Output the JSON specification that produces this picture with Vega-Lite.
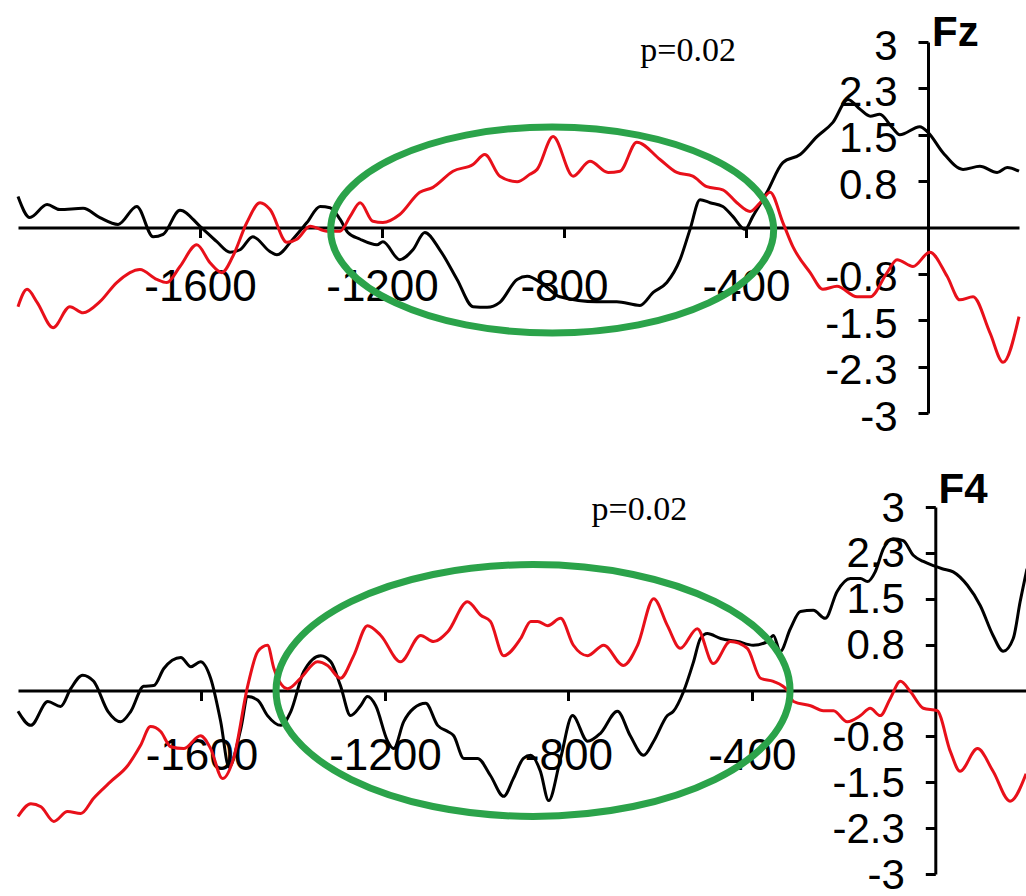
{
  "$schema": "https://vega.github.io/schema/vega-lite/v6.json",
  "background": "white",
  "padding": {"left": 12, "top": 12, "right": 0, "bottom": 0},
  "spacing": 31,
  "config": {
    "view": {"stroke": null},
    "axis": {
      "title": null, "grid": false,
      "domainColor": "#000000", "domainWidth": 3,
      "tickColor": "#000000", "tickWidth": 3, "tickSize": 10,
      "labelFont": "Liberation Sans", "labelColor": "#000000",
      "labelFlush": false, "labelOverlap": false
    }
  },
  "datasets": {
    "fz": [
      {"t":-2000,"v":0.50,"s":"A"},{"t":-1974,"v":0.16,"s":"A"},{"t":-1936,"v":0.37,"s":"A"},{"t":-1908,"v":0.29,"s":"A"},
      {"t":-1857,"v":0.31,"s":"A"},{"t":-1820,"v":0.16,"s":"A"},{"t":-1780,"v":0.05,"s":"A"},{"t":-1739,"v":0.34,"s":"A"},
      {"t":-1703,"v":-0.15,"s":"A"},{"t":-1681,"v":-0.11,"s":"A"},{"t":-1644,"v":0.28,"s":"A"},{"t":-1600,"v":0.02,"s":"A"},
      {"t":-1563,"v":-0.23,"s":"A"},{"t":-1534,"v":-0.40,"s":"A"},{"t":-1512,"v":-0.36,"s":"A"},{"t":-1484,"v":-0.15,"s":"A"},
      {"t":-1446,"v":-0.39,"s":"A"},{"t":-1431,"v":-0.44,"s":"A"},{"t":-1396,"v":-0.19,"s":"A"},{"t":-1365,"v":0.08,"s":"A"},
      {"t":-1336,"v":0.34,"s":"A"},{"t":-1314,"v":0.32,"s":"A"},{"t":-1292,"v":0.13,"s":"A"},{"t":-1275,"v":-0.08,"s":"A"},
      {"t":-1248,"v":-0.19,"s":"A"},{"t":-1211,"v":-0.28,"s":"A"},{"t":-1198,"v":-0.23,"s":"A"},{"t":-1161,"v":-0.52,"s":"A"},
      {"t":-1132,"v":-0.36,"s":"A"},{"t":-1106,"v":-0.08,"s":"A"},{"t":-1073,"v":-0.36,"s":"A"},{"t":-1035,"v":-0.84,"s":"A"},
      {"t":-1000,"v":-1.28,"s":"A"},{"t":-969,"v":-1.29,"s":"A"},{"t":-941,"v":-1.21,"s":"A"},{"t":-903,"v":-0.84,"s":"A"},
      {"t":-881,"v":-0.79,"s":"A"},{"t":-846,"v":-0.92,"s":"A"},{"t":-809,"v":-1.12,"s":"A"},{"t":-728,"v":-1.20,"s":"A"},
      {"t":-684,"v":-1.20,"s":"A"},{"t":-633,"v":-1.26,"s":"A"},{"t":-604,"v":-1.05,"s":"A"},{"t":-574,"v":-0.89,"s":"A"},
      {"t":-545,"v":-0.52,"s":"A"},{"t":-523,"v":-0.03,"s":"A"},{"t":-501,"v":0.45,"s":"A"},{"t":-479,"v":0.40,"s":"A"},
      {"t":-451,"v":0.34,"s":"A"},{"t":-429,"v":0.18,"s":"A"},{"t":-402,"v":-0.03,"s":"A"},{"t":-385,"v":0.18,"s":"A"},
      {"t":-354,"v":0.57,"s":"A"},{"t":-319,"v":1.05,"s":"A"},{"t":-281,"v":1.18,"s":"A"},{"t":-244,"v":1.47,"s":"A"},
      {"t":-209,"v":1.70,"s":"A"},{"t":-176,"v":2.07,"s":"A"},{"t":-149,"v":1.91,"s":"A"},{"t":-127,"v":1.80,"s":"A"},
      {"t":-106,"v":1.83,"s":"A"},{"t":-79,"v":1.62,"s":"A"},{"t":-62,"v":1.50,"s":"A"},{"t":-18,"v":1.63,"s":"A"},
      {"t":0,"v":1.54,"s":"A"},{"t":33,"v":1.21,"s":"A"},{"t":77,"v":0.94,"s":"A"},{"t":114,"v":0.99,"s":"A"},
      {"t":152,"v":0.89,"s":"A"},{"t":174,"v":0.97,"s":"A"},{"t":200,"v":0.91,"s":"A"},
      {"t":-2000,"v":-1.28,"s":"B"},{"t":-1980,"v":-1.00,"s":"B"},{"t":-1958,"v":-1.21,"s":"B"},{"t":-1923,"v":-1.62,"s":"B"},
      {"t":-1886,"v":-1.28,"s":"B"},{"t":-1857,"v":-1.38,"s":"B"},{"t":-1820,"v":-1.20,"s":"B"},{"t":-1783,"v":-0.89,"s":"B"},
      {"t":-1732,"v":-0.68,"s":"B"},{"t":-1695,"v":-0.84,"s":"B"},{"t":-1673,"v":-0.89,"s":"B"},{"t":-1644,"v":-0.63,"s":"B"},
      {"t":-1607,"v":-0.28,"s":"B"},{"t":-1578,"v":-0.57,"s":"B"},{"t":-1552,"v":-0.73,"s":"B"},{"t":-1528,"v":-0.47,"s":"B"},
      {"t":-1497,"v":0.08,"s":"B"},{"t":-1468,"v":0.40,"s":"B"},{"t":-1446,"v":0.29,"s":"B"},{"t":-1409,"v":-0.24,"s":"B"},
      {"t":-1387,"v":-0.19,"s":"B"},{"t":-1358,"v":0.02,"s":"B"},{"t":-1321,"v":-0.06,"s":"B"},{"t":-1292,"v":-0.06,"s":"B"},
      {"t":-1270,"v":0.18,"s":"B"},{"t":-1248,"v":0.40,"s":"B"},{"t":-1220,"v":0.10,"s":"B"},{"t":-1198,"v":0.08,"s":"B"},
      {"t":-1161,"v":0.21,"s":"B"},{"t":-1117,"v":0.57,"s":"B"},{"t":-1088,"v":0.65,"s":"B"},{"t":-1044,"v":0.91,"s":"B"},
      {"t":-1000,"v":1.02,"s":"B"},{"t":-974,"v":1.18,"s":"B"},{"t":-941,"v":0.83,"s":"B"},{"t":-903,"v":0.74,"s":"B"},
      {"t":-875,"v":0.86,"s":"B"},{"t":-859,"v":0.94,"s":"B"},{"t":-824,"v":1.47,"s":"B"},{"t":-780,"v":0.83,"s":"B"},
      {"t":-743,"v":1.07,"s":"B"},{"t":-703,"v":0.89,"s":"B"},{"t":-677,"v":0.91,"s":"B"},{"t":-640,"v":1.38,"s":"B"},
      {"t":-589,"v":1.10,"s":"B"},{"t":-552,"v":0.89,"s":"B"},{"t":-517,"v":0.83,"s":"B"},{"t":-486,"v":0.66,"s":"B"},
      {"t":-451,"v":0.61,"s":"B"},{"t":-420,"v":0.40,"s":"B"},{"t":-391,"v":0.26,"s":"B"},{"t":-369,"v":0.40,"s":"B"},
      {"t":-347,"v":0.57,"s":"B"},{"t":-319,"v":0.08,"s":"B"},{"t":-297,"v":-0.31,"s":"B"},{"t":-259,"v":-0.73,"s":"B"},
      {"t":-231,"v":-1.00,"s":"B"},{"t":-200,"v":-0.95,"s":"B"},{"t":-156,"v":-1.12,"s":"B"},{"t":-127,"v":-1.12,"s":"B"},
      {"t":-90,"v":-0.73,"s":"B"},{"t":-68,"v":-0.52,"s":"B"},{"t":-33,"v":-0.63,"s":"B"},{"t":4,"v":-0.40,"s":"B"},
      {"t":42,"v":-0.79,"s":"B"},{"t":70,"v":-1.17,"s":"B"},{"t":99,"v":-1.12,"s":"B"},{"t":136,"v":-1.70,"s":"B"},
      {"t":165,"v":-2.18,"s":"B"},{"t":200,"v":-1.44,"s":"B"}
    ],
    "f4": [
      {"t":-2000,"v":-0.34,"s":"A"},{"t":-1972,"v":-0.57,"s":"A"},{"t":-1935,"v":-0.18,"s":"A"},{"t":-1907,"v":-0.26,"s":"A"},
      {"t":-1885,"v":0.03,"s":"A"},{"t":-1859,"v":0.25,"s":"A"},{"t":-1835,"v":0.15,"s":"A"},{"t":-1804,"v":-0.34,"s":"A"},
      {"t":-1776,"v":-0.51,"s":"A"},{"t":-1754,"v":-0.34,"s":"A"},{"t":-1726,"v":0.07,"s":"A"},{"t":-1704,"v":0.08,"s":"A"},
      {"t":-1682,"v":0.36,"s":"A"},{"t":-1645,"v":0.54,"s":"A"},{"t":-1623,"v":0.39,"s":"A"},{"t":-1602,"v":0.47,"s":"A"},
      {"t":-1580,"v":0.20,"s":"A"},{"t":-1558,"v":-0.51,"s":"A"},{"t":-1540,"v":-1.25,"s":"A"},{"t":-1514,"v":-0.62,"s":"A"},
      {"t":-1499,"v":-0.10,"s":"A"},{"t":-1477,"v":-0.16,"s":"A"},{"t":-1456,"v":-0.41,"s":"A"},{"t":-1427,"v":-0.57,"s":"A"},
      {"t":-1405,"v":-0.34,"s":"A"},{"t":-1377,"v":0.31,"s":"A"},{"t":-1340,"v":0.57,"s":"A"},{"t":-1318,"v":0.47,"s":"A"},
      {"t":-1297,"v":0.08,"s":"A"},{"t":-1275,"v":-0.41,"s":"A"},{"t":-1253,"v":-0.25,"s":"A"},{"t":-1238,"v":-0.10,"s":"A"},
      {"t":-1220,"v":-0.25,"s":"A"},{"t":-1194,"v":-0.83,"s":"A"},{"t":-1181,"v":-0.95,"s":"A"},{"t":-1159,"v":-0.51,"s":"A"},
      {"t":-1137,"v":-0.29,"s":"A"},{"t":-1111,"v":-0.21,"s":"A"},{"t":-1085,"v":-0.57,"s":"A"},{"t":-1063,"v":-0.67,"s":"A"},
      {"t":-1050,"v":-0.74,"s":"A"},{"t":-1028,"v":-1.11,"s":"A"},{"t":-998,"v":-1.11,"s":"A"},{"t":-970,"v":-1.39,"s":"A"},
      {"t":-941,"v":-1.73,"s":"A"},{"t":-920,"v":-1.44,"s":"A"},{"t":-898,"v":-1.11,"s":"A"},{"t":-882,"v":-1.06,"s":"A"},
      {"t":-861,"v":-1.32,"s":"A"},{"t":-843,"v":-1.80,"s":"A"},{"t":-817,"v":-1.11,"s":"A"},{"t":-791,"v":-0.41,"s":"A"},
      {"t":-758,"v":-0.83,"s":"A"},{"t":-730,"v":-0.70,"s":"A"},{"t":-693,"v":-0.34,"s":"A"},{"t":-665,"v":-0.74,"s":"A"},
      {"t":-636,"v":-1.06,"s":"A"},{"t":-614,"v":-0.83,"s":"A"},{"t":-584,"v":-0.41,"s":"A"},{"t":-571,"v":-0.34,"s":"A"},
      {"t":-549,"v":-0.02,"s":"A"},{"t":-527,"v":0.47,"s":"A"},{"t":-512,"v":0.85,"s":"A"},{"t":-497,"v":0.93,"s":"A"},
      {"t":-468,"v":0.85,"s":"A"},{"t":-431,"v":0.80,"s":"A"},{"t":-397,"v":0.74,"s":"A"},{"t":-366,"v":0.80,"s":"A"},
      {"t":-353,"v":0.90,"s":"A"},{"t":-338,"v":0.64,"s":"A"},{"t":-316,"v":1.01,"s":"A"},{"t":-294,"v":1.29,"s":"A"},
      {"t":-266,"v":1.31,"s":"A"},{"t":-240,"v":1.18,"s":"A"},{"t":-214,"v":1.62,"s":"A"},{"t":-185,"v":1.83,"s":"A"},
      {"t":-163,"v":1.83,"s":"A"},{"t":-148,"v":1.78,"s":"A"},{"t":-131,"v":1.94,"s":"A"},{"t":-113,"v":2.32,"s":"A"},
      {"t":-92,"v":2.48,"s":"A"},{"t":-70,"v":2.45,"s":"A"},{"t":-48,"v":2.21,"s":"A"},{"t":-26,"v":2.11,"s":"A"},
      {"t":-4,"v":2.04,"s":"A"},{"t":15,"v":1.99,"s":"A"},{"t":39,"v":1.94,"s":"A"},{"t":70,"v":1.72,"s":"A"},
      {"t":98,"v":1.39,"s":"A"},{"t":126,"v":0.90,"s":"A"},{"t":148,"v":0.64,"s":"A"},{"t":170,"v":0.85,"s":"A"},
      {"t":185,"v":1.45,"s":"A"},{"t":200,"v":1.99,"s":"A"},
      {"t":-2000,"v":-2.06,"s":"B"},{"t":-1972,"v":-1.85,"s":"B"},{"t":-1950,"v":-1.90,"s":"B"},{"t":-1922,"v":-2.14,"s":"B"},
      {"t":-1892,"v":-1.98,"s":"B"},{"t":-1863,"v":-2.01,"s":"B"},{"t":-1835,"v":-1.76,"s":"B"},{"t":-1798,"v":-1.49,"s":"B"},
      {"t":-1761,"v":-1.23,"s":"B"},{"t":-1733,"v":-0.90,"s":"B"},{"t":-1711,"v":-0.59,"s":"B"},{"t":-1689,"v":-0.67,"s":"B"},
      {"t":-1667,"v":-0.92,"s":"B"},{"t":-1639,"v":-0.95,"s":"B"},{"t":-1602,"v":-0.74,"s":"B"},{"t":-1580,"v":-0.95,"s":"B"},
      {"t":-1554,"v":-1.44,"s":"B"},{"t":-1530,"v":-1.11,"s":"B"},{"t":-1499,"v":0.08,"s":"B"},{"t":-1477,"v":0.64,"s":"B"},
      {"t":-1456,"v":0.74,"s":"B"},{"t":-1442,"v":0.36,"s":"B"},{"t":-1412,"v":0.03,"s":"B"},{"t":-1384,"v":0.20,"s":"B"},
      {"t":-1347,"v":0.47,"s":"B"},{"t":-1325,"v":0.41,"s":"B"},{"t":-1297,"v":0.20,"s":"B"},{"t":-1268,"v":0.57,"s":"B"},
      {"t":-1238,"v":1.06,"s":"B"},{"t":-1209,"v":0.90,"s":"B"},{"t":-1166,"v":0.47,"s":"B"},{"t":-1122,"v":0.90,"s":"B"},
      {"t":-1094,"v":0.80,"s":"B"},{"t":-1063,"v":0.96,"s":"B"},{"t":-1020,"v":1.45,"s":"B"},{"t":-991,"v":1.23,"s":"B"},
      {"t":-970,"v":1.13,"s":"B"},{"t":-941,"v":0.57,"s":"B"},{"t":-904,"v":0.85,"s":"B"},{"t":-882,"v":1.13,"s":"B"},
      {"t":-867,"v":1.13,"s":"B"},{"t":-845,"v":1.06,"s":"B"},{"t":-817,"v":1.18,"s":"B"},{"t":-789,"v":0.74,"s":"B"},
      {"t":-758,"v":0.57,"s":"B"},{"t":-723,"v":0.74,"s":"B"},{"t":-680,"v":0.41,"s":"B"},{"t":-649,"v":0.74,"s":"B"},
      {"t":-614,"v":1.50,"s":"B"},{"t":-584,"v":1.06,"s":"B"},{"t":-556,"v":0.69,"s":"B"},{"t":-519,"v":1.01,"s":"B"},
      {"t":-484,"v":0.44,"s":"B"},{"t":-447,"v":0.80,"s":"B"},{"t":-410,"v":0.69,"s":"B"},{"t":-381,"v":0.20,"s":"B"},
      {"t":-353,"v":0.15,"s":"B"},{"t":-322,"v":0.00,"s":"B"},{"t":-309,"v":-0.18,"s":"B"},{"t":-272,"v":-0.25,"s":"B"},
      {"t":-244,"v":-0.33,"s":"B"},{"t":-222,"v":-0.33,"s":"B"},{"t":-192,"v":-0.51,"s":"B"},{"t":-163,"v":-0.41,"s":"B"},
      {"t":-142,"v":-0.29,"s":"B"},{"t":-120,"v":-0.41,"s":"B"},{"t":-98,"v":-0.13,"s":"B"},{"t":-76,"v":0.15,"s":"B"},
      {"t":-54,"v":-0.02,"s":"B"},{"t":-26,"v":-0.29,"s":"B"},{"t":4,"v":-0.33,"s":"B"},{"t":33,"v":-1.00,"s":"B"},
      {"t":54,"v":-1.32,"s":"B"},{"t":92,"v":-0.95,"s":"B"},{"t":126,"v":-1.32,"s":"B"},{"t":163,"v":-1.81,"s":"B"},
      {"t":198,"v":-1.36,"s":"B"}
    ]
  },
  "vconcat": [
    {
      "width": 1001,
      "height": 371,
      "layer": [
        {
          "data": {"name": "fz"},
          "mark": {"type": "line", "strokeWidth": 3, "interpolate": "monotone"},
          "encoding": {
            "x": {"field": "t", "type": "quantitative",
              "scale": {"domain": [-2000, 200], "nice": false, "zero": false},
              "axis": {"orient": "bottom", "offset": -185.5, "values": [-1600, -1200, -800, -400],
                "labelExpr": "'-' + abs(datum.value)", "labelFontSize": 44, "labelPadding": 28}},
            "y": {"field": "v", "type": "quantitative",
              "scale": {"domain": [-3, 3], "nice": false},
              "axis": {"orient": "left", "offset": -910, "values": [-3, -2.25, -1.5, -0.75, 0.75, 1.5, 2.25, 3],
                "labelExpr": "datum.value == 3 ? '3' : datum.value == -3 ? '-3' : datum.value == 2.25 ? '2.3' : datum.value == -2.25 ? '-2.3' : datum.value == 1.5 ? '1.5' : datum.value == -1.5 ? '-1.5' : datum.value == 0.75 ? '0.8' : '-0.8'",
                "labelFontSize": 42, "labelPadding": 21, "labelOffset": 4}},
            "color": {"field": "s", "type": "nominal",
              "scale": {"domain": ["A", "B"], "range": ["#000000", "#e8101a"]}, "legend": null}
          }
        },
        {
          "data": {"values": [{}]},
          "mark": {"type": "point", "shape": "M-1,0C-1,-0.257,-0.552,-0.465,0,-0.465C0.552,-0.465,1,-0.257,1,0C1,0.257,0.552,0.465,0,0.465C-0.552,0.465,-1,0.257,-1,0Z",
            "size": 196249, "filled": false, "stroke": "#2ba34a", "strokeWidth": 7, "opacity": 1},
          "encoding": {"x": {"datum": -826}, "y": {"datum": -0.04}}
        },
        {
          "data": {"values": [{}]},
          "mark": {"type": "text", "font": "Liberation Serif", "fontSize": 34, "align": "center", "baseline": "alphabetic", "color": "#000000"},
          "encoding": {"x": {"datum": -527}, "y": {"datum": 2.7}, "text": {"value": "p=0.02"}}
        },
        {
          "data": {"values": [{}]},
          "mark": {"type": "text", "font": "Liberation Sans", "fontWeight": "bold", "fontSize": 42, "align": "left", "baseline": "alphabetic", "color": "#000000"},
          "encoding": {"x": {"datum": 9}, "y": {"datum": 2.93}, "text": {"value": "Fz"}}
        }
      ]
    },
    {
      "width": 1009,
      "height": 367,
      "layer": [
        {
          "data": {"name": "f4"},
          "mark": {"type": "line", "strokeWidth": 3, "interpolate": "monotone"},
          "encoding": {
            "x": {"field": "t", "type": "quantitative",
              "scale": {"domain": [-2000, 200], "nice": false, "zero": false},
              "axis": {"orient": "bottom", "offset": -183.5, "values": [-1600, -1200, -800, -400],
                "labelExpr": "'-' + abs(datum.value)", "labelFontSize": 44, "labelPadding": 34}},
            "y": {"field": "v", "type": "quantitative",
              "scale": {"domain": [-3, 3], "nice": false},
              "axis": {"orient": "left", "offset": -917.3, "values": [-3, -2.25, -1.5, -0.75, 0.75, 1.5, 2.25, 3],
                "labelExpr": "datum.value == 3 ? '3' : datum.value == -3 ? '-3' : datum.value == 2.25 ? '2.3' : datum.value == -2.25 ? '-2.3' : datum.value == 1.5 ? '1.5' : datum.value == -1.5 ? '-1.5' : datum.value == 0.75 ? '0.8' : '-0.8'",
                "labelFontSize": 42, "labelPadding": 21, "labelOffset": 1}},
            "color": {"field": "s", "type": "nominal",
              "scale": {"domain": ["A", "B"], "range": ["#000000", "#e8101a"]}, "legend": null}
          }
        },
        {
          "data": {"values": [{}]},
          "mark": {"type": "point", "shape": "M-1,0C-1,-0.271,-0.552,-0.49,0,-0.49C0.552,-0.49,1,-0.271,1,0C1,0.271,0.552,0.49,0,0.49C-0.552,0.49,-1,0.271,-1,0Z",
            "size": 264196, "filled": false, "stroke": "#2ba34a", "strokeWidth": 7, "opacity": 1},
          "encoding": {"x": {"datum": -877}, "y": {"datum": 0}}
        },
        {
          "data": {"values": [{}]},
          "mark": {"type": "text", "font": "Liberation Serif", "fontSize": 34, "align": "center", "baseline": "alphabetic", "color": "#000000"},
          "encoding": {"x": {"datum": -645}, "y": {"datum": 2.78}, "text": {"value": "p=0.02"}}
        },
        {
          "data": {"values": [{}]},
          "mark": {"type": "text", "font": "Liberation Sans", "fontWeight": "bold", "fontSize": 42, "align": "left", "baseline": "alphabetic", "color": "#000000"},
          "encoding": {"x": {"datum": 7}, "y": {"datum": 3.06}, "text": {"value": "F4"}}
        }
      ]
    }
  ]
}
